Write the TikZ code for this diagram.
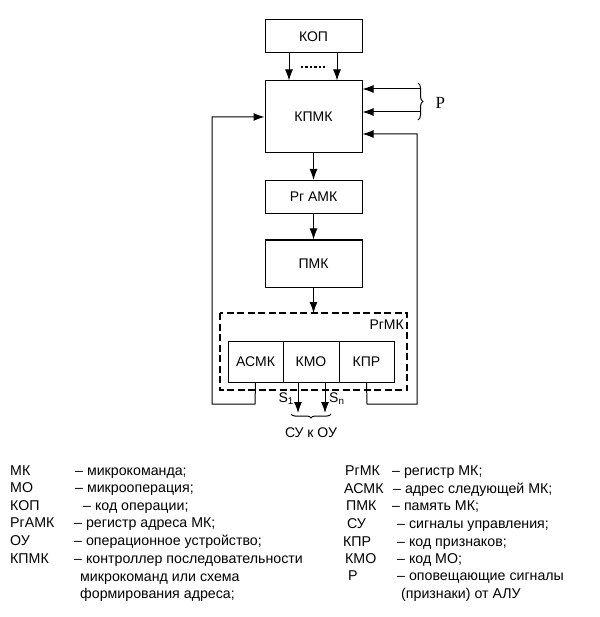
\documentclass[tikz,border=0pt]{standalone}
\usepackage{fontspec}
\setmainfont{Liberation Sans}
\newfontfamily\pfont{Liberation Serif}
\usetikzlibrary{arrows.meta,decorations.pathreplacing}
\begin{document}
\begin{tikzpicture}[x=1pt,y=1pt,
  blk/.style={draw,line width=1pt,inner sep=0pt},
  arr/.style={line width=1pt,-{Latex[length=11pt,width=8pt]}},
  ln/.style={line width=1pt},
  txt/.style={font=\fontsize{14}{16}\selectfont},
  lg/.style={anchor=base west,inner sep=0pt,font=\fontsize{14.2}{16}\selectfont}]
\useasboundingbox (0,0) rectangle (599,-617);
% boxes
\node[blk,minimum width=97pt,minimum height=33pt,txt] (kop) at (313.5,-36.5) {КОП};
\node[blk,minimum width=97pt,minimum height=72pt,txt] (kpmk) at (313.5,-117) {КПМК};
\node[blk,minimum width=97pt,minimum height=33pt,txt] (rgamk) at (313.5,-197) {Рг АМК};
\node[blk,minimum width=97pt,minimum height=47pt,txt] (pmk) at (313.5,-263.5) {ПМК};
\draw[line width=2.4pt,dash pattern=on 7pt off 3.5pt] (220,-313) rectangle (407,-390);
\node[txt,anchor=north east,inner sep=0pt] (rgmk) at (404,-320) {РгМК};
\node[blk,minimum width=55pt,minimum height=41pt,txt] (asmk) at (255.5,-361.5) {АСМК};
\node[blk,minimum width=56pt,minimum height=41pt,txt] (kmo) at (311,-361.5) {КМО};
\node[blk,minimum width=55pt,minimum height=41pt,txt] (kpr) at (366.5,-361.5) {КПР};
\coordinate (dash) at (313.5,-313);
% arrows KOP -> KPMK
\draw[arr] (kop.south -| 289,0) -- (kpmk.north -| 289,0);
\draw[arr] (kop.south -| 337,0) -- (kpmk.north -| 337,0);
\draw[line width=2.4pt,dash pattern=on 2.4pt off 2pt] (301,-67) -- (326,-67);
% P inputs
\coordinate (p1) at (420,-89);
\coordinate (p2) at (420,-112);
\draw[arr] (p1) -- (kpmk.east |- p1);
\draw[arr] (p2) -- (kpmk.east |- p2);
\draw[ln,decorate,decoration={brace,amplitude=5pt}] (418,-83) -- (418,-120);
\node[font=\pfont\fontsize{17}{18}\selectfont,anchor=west] (P) at (432,-103) {P};
% chain
\draw[arr] (kpmk) -- (rgamk);
\draw[arr] (rgamk) -- (pmk);
\draw[arr] (pmk) -- (dash);
% feedback
\draw[arr] (asmk.south) -- (255,-404) -- (212,-404) -- (212,-117) -- (kpmk.west);
\draw[arr] (kpr.south) -- (367,-404) -- (417,-404) -- (417,-134) -- (kpmk.east |- 0,-134);
% S outputs
\coordinate (s1e) at (298,-413);
\coordinate (sne) at (325,-413);
\draw[arr] (kmo.south -| s1e) -- (s1e);
\draw[arr] (kmo.south -| sne) -- (sne);
\node[txt,anchor=east,inner sep=1pt] (s1) at (295,-399) {S\textsubscript{1}};
\node[txt,anchor=west,inner sep=1pt] (sn) at (328,-399) {S\textsubscript{n}};
\draw[ln,decorate,decoration={brace,amplitude=4pt,mirror}] (291,-414) -- (331,-414);
\node[txt,anchor=north] (su) at (311,-424) {СУ к ОУ};
% legend left
\node[lg] at (10,-475) {МК}; \node[lg] at (75,-475) {– микрокоманда;};
\node[lg] at (10,-492) {МО}; \node[lg] at (75,-492) {– микрооперация;};
\node[lg] at (10,-510) {КОП}; \node[lg] at (83,-510) {– код операции;};
\node[lg] at (10,-527) {РгАМК}; \node[lg] at (74,-527) {– регистр адреса МК;};
\node[lg] at (10,-545) {ОУ}; \node[lg] at (74,-545) {– операционное устройство;};
\node[lg] at (10,-563) {КПМК}; \node[lg] at (74,-563) {– контроллер последовательности};
\node[lg] at (80,-581) {микрокоманд или схема};
\node[lg] at (80,-598) {формирования адреса;};
% legend right
\node[lg] at (345,-475) {РгМК}; \node[lg] at (392,-475) {– регистр МК;};
\node[lg] at (344,-493) {АСМК}; \node[lg] at (393,-493) {– адрес следующей МК;};
\node[lg] at (346,-510) {ПМК}; \node[lg] at (392,-510) {– память МК;};
\node[lg] at (347,-528) {СУ}; \node[lg] at (397,-528) {– сигналы управления;};
\node[lg] at (343,-546) {КПР}; \node[lg] at (397,-546) {– код признаков;};
\node[lg] at (345,-563) {КМО}; \node[lg] at (397,-563) {– код МО;};
\node[lg] at (348,-580) {Р}; \node[lg] at (397,-580) {– оповещающие сигналы};
\node[lg] at (401,-598) {(признаки) от АЛУ};
\end{tikzpicture}
\end{document}
